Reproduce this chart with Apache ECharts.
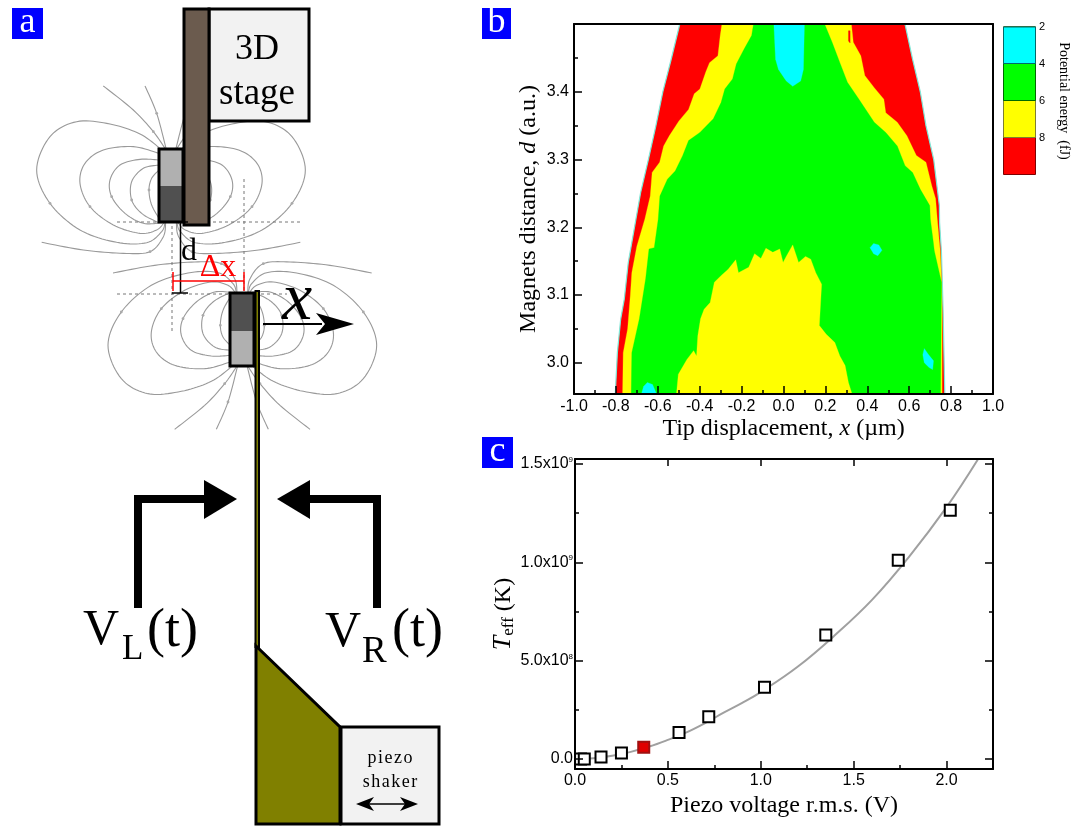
<!DOCTYPE html>
<html><head><meta charset="utf-8">
<style>html,body{margin:0;padding:0;background:#fff}#c{width:1083px;height:826px}</style>
<script src="https://cdn.jsdelivr.net/npm/echarts@6/dist/echarts.min.js"></script>
</head><body><div id="c"></div>
<script>
// ---------- panel b: contour boundaries, [x (um), d (a.u.)] ----------
const outerLeft=[[-0.495,3.5],[-0.536,3.448],[-0.576,3.4],[-0.609,3.35],[-0.645,3.3],[-0.682,3.251],[-0.713,3.197],[-0.741,3.148],[-0.76,3.094],[-0.777,3.065],[-0.793,3.015],[-0.803,2.954]];
const outerRight=[[0.58,3.5],[0.616,3.448],[0.653,3.4],[0.68,3.35],[0.717,3.3],[0.744,3.232],[0.745,3.207],[0.754,3.163],[0.762,3.074],[0.77,2.954]];
const yellowLeft=[[-0.294,3.5],[-0.302,3.483],[-0.313,3.453],[-0.353,3.443],[-0.371,3.429],[-0.399,3.404],[-0.426,3.397],[-0.453,3.374],[-0.499,3.357],[-0.545,3.335],[-0.572,3.32],[-0.591,3.296],[-0.627,3.281],[-0.636,3.246],[-0.662,3.212],[-0.70,3.172],[-0.724,3.133],[-0.731,3.1],[-0.744,3.05],[-0.765,3.015],[-0.768,2.954]];
const yellowRight=[[0.324,3.5],[0.333,3.473],[0.369,3.453],[0.388,3.424],[0.433,3.406],[0.479,3.389],[0.488,3.369],[0.543,3.355],[0.589,3.335],[0.634,3.306],[0.68,3.296],[0.708,3.261],[0.726,3.242],[0.734,3.212],[0.748,3.165],[0.754,3.124],[0.757,3.072],[0.757,2.954]];
const greenLeft=[[-0.143,3.5],[-0.152,3.483],[-0.188,3.463],[-0.225,3.441],[-0.243,3.419],[-0.28,3.404],[-0.298,3.384],[-0.335,3.36],[-0.399,3.34],[-0.453,3.328],[-0.481,3.306],[-0.517,3.283],[-0.554,3.271],[-0.59,3.246],[-0.598,3.212],[-0.617,3.17],[-0.642,3.168],[-0.658,3.124],[-0.688,3.065],[-0.724,3.015],[-0.727,2.954]];
const greenRight=[[0.196,3.5],[0.232,3.473],[0.269,3.443],[0.305,3.414],[0.36,3.389],[0.433,3.355],[0.488,3.34],[0.543,3.32],[0.58,3.291],[0.616,3.281],[0.653,3.256],[0.698,3.232],[0.701,3.212],[0.713,3.183],[0.72,3.165],[0.754,3.119],[0.75,2.954]];
const cyanTop=[[-0.046,3.5],[-0.038,3.448],[-0.024,3.433],[0.013,3.416],[0.044,3.408],[0.082,3.416],[0.095,3.433],[0.1,3.5]];
const yellowBlob=[[-0.511,2.954],[-0.502,2.983],[-0.461,3.005],[-0.429,3.018],[-0.415,3.01],[-0.409,3.04],[-0.396,3.065],[-0.379,3.079],[-0.35,3.089],[-0.33,3.119],[-0.297,3.129],[-0.264,3.138],[-0.228,3.152],[-0.215,3.133],[-0.166,3.141],[-0.138,3.161],[-0.108,3.154],[-0.084,3.169],[-0.051,3.163],[-0.018,3.168],[-0.002,3.148],[0.015,3.158],[0.044,3.174],[0.072,3.148],[0.105,3.157],[0.13,3.153],[0.154,3.133],[0.182,3.116],[0.171,3.055],[0.204,3.042],[0.245,3.03],[0.269,3.01],[0.294,2.996],[0.31,2.971],[0.327,2.954]];
const cyanSpotA=[[0.413,3.17],[0.43,3.176],[0.455,3.174],[0.47,3.166],[0.45,3.158],[0.43,3.161]];
const cyanSpotB=[[0.672,3.021],[0.69,3.013],[0.716,3.003],[0.712,2.99],[0.695,2.993],[0.672,3.0],[0.665,3.012]];
const cyanSpotC=[[-0.678,2.954],[-0.668,2.965],[-0.65,2.971],[-0.625,2.968],[-0.606,2.954]];
const redSpeck=[[0.31,3.49],[0.318,3.49],[0.318,3.472],[0.31,3.475]];
const bandLabels=[2,4,6,8];
const bandUpper=[4,6,8,10];
const bandColors=['#00ffff','#00ff00','#ffff00','#ff0000'];
const bandEdges=['#006a6a','#006a00','#7f7f30','#7f0000'];
// ---------- panel c ----------
const voltage=[0.03,0.05,0.14,0.25,0.56,0.72,1.02,1.35,1.74,2.02];
const teff=[0,0,0.01e9,0.03e9,0.135e9,0.215e9,0.365e9,0.63e9,1.01e9,1.265e9];
const redPoint=[[0.37,0.06e9]];
const fitV=[0,0.1,0.2,0.3,0.4,0.5,0.6,0.7,0.8,0.9,1.0,1.2,1.4,1.6,1.8,2.0,2.17];
const fitT=[0,0.004e9,0.016e9,0.036e9,0.063e9,0.097e9,0.135e9,0.182e9,0.235e9,0.285e9,0.34e9,0.47e9,0.63e9,0.81e9,1.03e9,1.28e9,1.525e9];
const cXTicks=[0,0.5,1,1.5,2];
const cXMinor=[0.25,0.75,1.25,1.75,2.25];
const cYTicks=[0,0.5e9,1e9,1.5e9];
const cYMinor=[0.25e9,0.75e9,1.25e9];
const bYTicks=[3.0,3.1,3.2,3.3,3.4];
const bYMinor=[3.05,3.15,3.25,3.35,3.45];
// ---------- panel a: field line waypoints of one magnet (upper one) ----------
const fieldLoops=[
 [[480,445],[420,402],[330,372],[230,365],[150,410],[110,510],[150,610],[240,690],[350,727],[440,728],[485,695],[495,668]],
 [[477,460],[400,440],[310,450],[255,490],[240,550],[270,620],[340,675],[420,700],[470,690],[492,668]],
 [[477,480],[420,478],[360,495],[330,540],[335,590],[375,640],[430,670],[485,668]],
 [[477,495],[430,505],[395,545],[395,600],[425,640],[470,665],[490,668]],
 [[477,510],[455,535],[447,570],[455,615],[480,660]]];
const fieldOpen=[
 [[310,258],[400,330],[460,395],[495,445]],
 [[435,258],[470,340],[498,445]],
 [[125,727],[250,750],[370,760],[450,755],[490,710],[497,668]]];

const serif='"Liberation Serif","Times New Roman",serif';
const sans='"Liberation Sans",Arial,sans-serif';
const g=[];
function line(points,stroke,w,extra){g.push({type:'polyline',shape:{points},style:Object.assign({stroke,lineWidth:w,fill:null},extra&&extra.dash?{lineDash:extra.dash}:{}),z:(extra&&extra.z)||1,silent:true});}
function poly(points,fill,stroke,w,z){g.push({type:'polygon',shape:{points},style:{fill,stroke:stroke||null,lineWidth:w||0},z:z||3,silent:true});}
function rect(x,y,w,h,fill,stroke,lw,z){g.push({type:'rect',shape:{x,y,width:w,height:h},style:{fill,stroke:stroke||null,lineWidth:lw||0},z:z||3,silent:true});}
function txt(s,x,y,font,fill,align,z){g.push({type:'text',x,y,style:{text:s,font,fill:fill||'#000',textAlign:align||'center',textVerticalAlign:'middle'},z:z||5,silent:true});}
function spline(p){const out=[];for(let i=0;i<p.length-1;i++){const a=p[Math.max(i-1,0)],b=p[i],c=p[i+1],d=p[Math.min(i+2,p.length-1)];
  for(let k=0;k<10;k++){const t=k/10,t2=t*t,t3=t2*t;
   out.push([0,1].map(j=>0.5*(2*b[j]+(c[j]-a[j])*t+(2*a[j]-5*b[j]+4*c[j]-d[j])*t2+(3*b[j]-a[j]-3*c[j]+d[j])*t3)));}}
  out.push(p[p.length-1]);return out;}

const upper=p=>[p[0]/3,p[1]/3];
const upperM=p=>[(1026-p[0])/3,p[1]/3];
const lower=p=>[(p[0]+214)/3,(1546-p[1])/3];
const lowerM=p=>[(1026-p[0]+214)/3,(1546-p[1])/3];
[upper,upperM,lower,lowerM].forEach(t=>{
 fieldLoops.concat(fieldOpen).forEach(c=>{
  const pts=c.map(t);
  line(spline(pts),'#999',1.1);
  const m=pts[Math.floor(pts.length/2)];
  g.push({type:'circle',shape:{cx:m[0],cy:m[1],r:1.4},style:{fill:'#aaa'},z:1,silent:true});
 });
});
const dash={dash:[3,3],z:2};
line([[117,222],[302,222]],'#777',1,dash);
line([[117,294],[287,294]],'#777',1,dash);
line([[172,220],[172,333]],'#777',1,dash);
line([[244,179],[244,302]],'#777',1,dash);
// stage
rect(209,9,100,112,'#f2f2f2','#000',3);
rect(184,9,25,216,'#6b5b4e','#000',3);
txt('3D',257,50,'36px '+serif);
txt('stage',257,94,'37px '+serif);
// magnets
rect(159,149,24,37,'#b0b0b0');rect(159,186,24,36,'#505050');rect(159,149,24,73,'none','#000',3,4);
rect(230,293,24,38,'#505050');rect(230,331,24,35,'#b0b0b0');rect(230,293,24,73,'none','#000',3,4);
// d, dx
line([[180.5,222],[180.5,293]],'#000',1.5,{z:4});
line([[172,222],[188,222]],'#000',1.5,{z:4});
line([[172,293],[188,293]],'#000',1.5,{z:4});
txt('d',189,252,'32px '+serif);
line([[173,281],[244,281]],'#ff0000',1.5,{z:4});
line([[173,272],[173,291]],'#ff0000',1.5,{z:4});
line([[244,272],[244,291]],'#ff0000',1.5,{z:4});
txt('Δx',218,268,'32px '+serif,'#ff0000');
txt('x',297,301,'italic 68px '+serif);
line([[263,324],[322,324]],'#000',2,{z:4});
poly([[316,313],[354,324],[316,335],[325,324]],'#000');
// beam + piece
rect(255.5,291,3.5,356,'#808000','#000',2,3);
poly([[256,646],[340,727],[340,824],[256,824]],'#808000','#000',3);
rect(341,727,98,97,'#f2f2f2','#000',3);
txt('p\u200ai\u200ae\u200az\u200ao',390,758,'18px '+serif);
txt('s\u200ah\u200aa\u200ak\u200ae\u200ar',390,782,'18px '+serif);
line([[362,804],[412,804]],'#000',1.5,{z:4});
poly([[356,804],[374,797],[369,804],[374,811]],'#000');
poly([[418,804],[400,797],[405,804],[400,811]],'#000');
// drive arrows
line([[138,608],[138,499],[207,499]],'#000',8,{z:4});
poly([[204,480],[237,499],[204,519]],'#000');
line([[377,608],[377,499],[308,499]],'#000',8,{z:4});
poly([[310,480],[277,499],[310,519]],'#000');
txt('V',83,631,'50px '+serif,'#000','left');
txt('L',122,650,'35px '+serif,'#000','left');
txt('(t)',147,632,'54px '+serif,'#000','left');
txt('V',325,633,'50px '+serif,'#000','left');
txt('R',362,652,'37px '+serif,'#000','left');
txt('(t)',392,632,'54px '+serif,'#000','left');
// tags
[['a',12,8,31],['b',482,8,29],['c',482,437,31]].forEach(t=>{
 rect(t[1],t[2],t[3],31,'#0000ff',null,0,6);
 txt(t[0],t[1]+t[3]/2,t[2]+15,'36px '+serif,'#fff','center',7);
});

const spine={show:true,onZero:false,lineStyle:{color:'#000',width:2}};
const tickStyle={color:'#000',width:1.5};
const labelFont={fontFamily:sans,fontSize:16,color:'#000'};
const nameRich={n:{fontFamily:serif,fontSize:24,color:'#000'},i:{fontFamily:serif,fontSize:24,fontStyle:'italic',color:'#000'},t:{fontFamily:serif,fontSize:26,fontStyle:'italic',color:'#000'},s:{fontFamily:serif,fontSize:17,color:'#000',verticalAlign:'bottom',padding:[8,0,0,0]}};
const sci=v=>{if(v===0)return '0.0';const e=Math.floor(Math.log10(v)+1e-9);return (v/Math.pow(10,e)).toFixed(1)+'x10{p|'+e+'}';};
function overlay(base){return Object.assign({z:5,axisLabel:{show:false},splitLine:{show:false},axisLine:{show:false,onZero:false},axisTick:{show:false}},base);}

function polySeries(p,color,stroke){return {type:'custom',xAxisIndex:0,yAxisIndex:0,coordinateSystem:'cartesian2d',data:p,encode:{x:0,y:1},silent:true,animation:false,
 renderItem:(params,api)=>{if(params.dataIndex!==0)return null;return {type:'polygon',shape:{points:p.map(v=>api.coord(v))},style:{fill:color,stroke:stroke||color,lineWidth:stroke?1.2:0.3}};}};}
const closed=(l,r)=>l.concat(r.slice().reverse());

const option={animation:false,backgroundColor:'#fff',graphic:{elements:g},
 grid:[{left:574,width:419,top:24,height:370},
       {left:575,width:418,top:459,height:310},
       {left:1003,width:33,top:27,height:148}],
 xAxis:[
  {gridIndex:0,type:'value',min:-1,max:1,interval:0.2,z:5,position:'bottom',
   name:'{n|Tip displacement, }{i|x}{n| (µm)}',nameLocation:'middle',nameGap:23,nameTextStyle:{rich:nameRich},
   axisLine:spine,axisTick:{inside:true,length:8,lineStyle:tickStyle},minorTick:{show:true,splitNumber:2,length:4,lineStyle:tickStyle},splitLine:{show:false},minorSplitLine:{show:false},
   axisLabel:Object.assign({margin:5,formatter:v=>v.toFixed(1)},labelFont)},
  overlay({gridIndex:0,type:'value',min:-1,max:1,position:'top',axisLine:spine}),
  {gridIndex:1,type:'value',min:0,max:2.25,z:5,position:'bottom',
   name:'{n|Piezo voltage r.m.s. (V)}',nameLocation:'middle',nameGap:25,nameTextStyle:{rich:nameRich},
   axisLine:spine,splitLine:{show:false},
   axisTick:{inside:true,length:8,lineStyle:tickStyle,customValues:cXTicks},
   axisLabel:Object.assign({margin:4,customValues:cXTicks,formatter:v=>v.toFixed(1)},labelFont)},
  overlay({gridIndex:1,type:'value',min:0,max:2.25,position:'bottom',axisTick:{show:true,inside:true,length:4,lineStyle:tickStyle,customValues:cXMinor}}),
  overlay({gridIndex:1,type:'value',min:0,max:2.25,position:'top',axisLine:spine,axisTick:{show:true,inside:true,length:7,lineStyle:tickStyle,customValues:cXTicks}}),
  {gridIndex:2,type:'category',data:['band'],show:false}
 ],
 yAxis:[
  {gridIndex:0,type:'value',min:2.954,max:3.5,z:5,position:'left',
   name:'{n|Magnets distance, }{i|d}{n| (a.u.)}',nameLocation:'middle',nameGap:33,nameRotate:90,nameTextStyle:{rich:nameRich},
   axisLine:spine,splitLine:{show:false},
   axisTick:{inside:true,length:8,lineStyle:tickStyle,customValues:bYTicks},
   axisLabel:Object.assign({margin:5,customValues:bYTicks,formatter:v=>v.toFixed(1)},labelFont)},
  overlay({gridIndex:0,type:'value',min:2.954,max:3.5,position:'left',axisTick:{show:true,inside:true,length:4,lineStyle:tickStyle,customValues:bYMinor}}),
  overlay({gridIndex:0,type:'value',min:2.954,max:3.5,position:'right',axisLine:spine}),
  {gridIndex:1,type:'value',min:-0.051e9,max:1.525e9,z:5,position:'left',
   name:'{t|T}{s|eff}{n| (K)}',nameLocation:'middle',nameGap:58,nameRotate:90,nameTextStyle:{rich:nameRich},
   axisLine:spine,splitLine:{show:false},
   axisTick:{inside:true,length:8,lineStyle:tickStyle,customValues:cYTicks},
   axisLabel:Object.assign({margin:2,customValues:cYTicks,formatter:sci,rich:{p:{fontFamily:sans,fontSize:8,color:'#000',verticalAlign:'top'}}},labelFont)},
  overlay({gridIndex:1,type:'value',min:-0.051e9,max:1.525e9,position:'left',axisTick:{show:true,inside:true,length:4,lineStyle:tickStyle,customValues:cYMinor}}),
  overlay({gridIndex:1,type:'value',min:-0.051e9,max:1.525e9,position:'right',axisLine:spine,axisTick:{show:true,inside:true,length:8,lineStyle:tickStyle,customValues:cYTicks}}),
  overlay({gridIndex:1,type:'value',min:-0.051e9,max:1.525e9,position:'right',axisTick:{show:true,inside:true,length:4,lineStyle:tickStyle,customValues:cYMinor}}),
  {gridIndex:2,type:'value',inverse:true,min:2,max:10,interval:2,position:'right',splitLine:{show:false},axisLine:{show:false,onZero:false},
   axisTick:{show:false},
   name:'Potential energy  (fJ)',nameLocation:'middle',nameRotate:-90,nameGap:21,nameTextStyle:{fontFamily:serif,fontSize:14,color:'#000'},
   axisLabel:{customValues:bandLabels,margin:3,fontFamily:sans,fontSize:11,color:'#000'}}
 ],
 series:[
  polySeries(closed(outerLeft,outerRight),'#ff0000','#7fe8d8'),
  polySeries(closed(yellowLeft,yellowRight),'#ffff00'),
  polySeries(closed(greenLeft,greenRight),'#00ff00'),
  polySeries(cyanTop,'#00ffff'),
  polySeries(yellowBlob,'#ffff00'),
  polySeries(cyanSpotA,'#00ffff'),
  polySeries(cyanSpotB,'#00ffff'),
  polySeries(cyanSpotC,'#00ffff'),
  polySeries(redSpeck,'#ff0000'),
  {type:'line',xAxisIndex:2,yAxisIndex:3,smooth:0.4,showSymbol:false,silent:true,data:fitV.map((v,i)=>[v,fitT[i]]),lineStyle:{color:'#a0a0a0',width:2},z:2},
  {type:'scatter',xAxisIndex:2,yAxisIndex:3,symbol:'rect',symbolSize:11,silent:true,data:voltage.map((v,i)=>[v,teff[i]]),itemStyle:{color:'#fff',borderColor:'#000',borderWidth:2,opacity:1},z:3},
  {type:'scatter',xAxisIndex:2,yAxisIndex:3,symbol:'rect',symbolSize:11,silent:true,data:redPoint,itemStyle:{color:'#e00000',borderColor:'#a01010',borderWidth:2,opacity:1},z:3}
 ].concat(bandUpper.slice().reverse().map((v,i)=>({type:'bar',xAxisIndex:5,yAxisIndex:7,barWidth:'100%',barGap:'-100%',silent:true,data:[v],
    itemStyle:{color:bandColors[3-i],borderColor:bandEdges[3-i],borderWidth:1}})))
};
const chart=echarts.init(document.getElementById('c'),null,{renderer:'canvas'});
chart.setOption(option);
</script></body></html>
